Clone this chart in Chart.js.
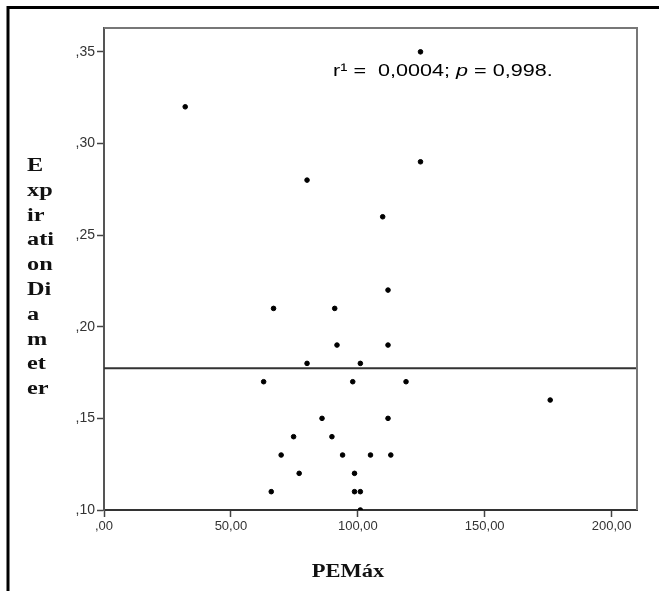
<!DOCTYPE html>
<html>
<head>
<meta charset="utf-8">
<script src="https://cdn.jsdelivr.net/npm/chart.js@4.4.1/dist/chart.umd.min.js"></script>
<style>
  html, body { margin: 0; padding: 0; background: #fff; }
  #wrap { width: 659px; height: 591px; }
</style>
</head>
<body>
<div id="wrap"><canvas id="scatter" width="659" height="591"></canvas></div>
<script>
// PEMáx vs expiration diameter
var pemax = [32, 80, 124.7, 124.7, 109.8, 111.9, 66.8, 90.9, 80, 101,
             91.8, 111.9, 62.9, 98, 119, 175.8, 85.9, 111.9, 74.7, 89.8,
             69.8, 94, 105, 113, 76.9, 98.7, 65.9, 98.7, 101, 101];
var diameter = [0.32, 0.28, 0.35, 0.29, 0.26, 0.22, 0.21, 0.21, 0.18, 0.18,
                0.19, 0.19, 0.17, 0.17, 0.17, 0.16, 0.15, 0.15, 0.14, 0.14,
                0.13, 0.13, 0.13, 0.13, 0.12, 0.12, 0.11, 0.11, 0.11, 0.10];
var fitX = [0, 210];
var fitY = [0.1773, 0.1773];
var xTicks = [0, 50, 100, 150, 200];
var yTicks = [0.10, 0.15, 0.20, 0.25, 0.30, 0.35];
var yTitleLines = ['E', 'xp', 'ir', 'ati', 'on', 'Di', 'a', 'm', 'et', 'er'];
var xTitle = 'PEMáx';

function comma(v) {
    var s = v.toFixed(2).replace('.', ',');
    if (s.indexOf('0,') === 0) s = s.substring(1);
    return s;
}

var points = pemax.map(function (x, i) { return {x: x, y: diameter[i]}; });
var fitLine = fitX.map(function (x, i) { return {x: x, y: fitY[i]}; });

var extras = {
    id: 'extras',
    beforeDraw: function (chart) {
        var ctx = chart.ctx;
        ctx.save();
        ctx.fillStyle = '#fff';
        ctx.fillRect(0, 0, chart.width, chart.height);
        // outer frame (left + top)
        ctx.strokeStyle = '#000';
        ctx.lineWidth = 3;
        ctx.beginPath();
        ctx.moveTo(8, 591);
        ctx.lineTo(8, 7.5);
        ctx.lineTo(659, 7.5);
        ctx.stroke();
        ctx.restore();
    },
    afterDraw: function (chart) {
        var ctx = chart.ctx, a = chart.chartArea;
        ctx.save();
        // plot frame top/right
        ctx.strokeStyle = '#777';
        ctx.lineWidth = 2;
        ctx.beginPath();
        ctx.moveTo(a.left, a.top);
        ctx.lineTo(a.right, a.top);
        ctx.lineTo(a.right, a.bottom);
        ctx.stroke();

        // y title, broken into short lines
        ctx.fillStyle = '#111';
        ctx.font = 'bold 18px "Liberation Serif"';
        ctx.textBaseline = 'alphabetic';
        yTitleLines.forEach(function (t, i) {
            ctx.save();
            ctx.translate(27, 171 + i * 24.8);
            ctx.scale(1.35, 1);
            ctx.fillText(t, 0, 0);
            ctx.restore();
        });

        // x title
        ctx.save();
        ctx.font = 'bold 18px "Liberation Serif"';
        ctx.translate(348, 577);
        ctx.scale(1.25, 1);
        ctx.textAlign = 'center';
        ctx.fillText(xTitle, 0, 0);
        ctx.restore();

        // annotation
        ctx.save();
        ctx.fillStyle = '#000';
        ctx.translate(333, 76);
        ctx.scale(1.27, 1);
        var x = 0;
        ctx.font = '17px "Liberation Sans"';
        var part1 = 'r\u00b9 =  0,0004; ';
        ctx.fillText(part1, x, 0);
        x += ctx.measureText(part1).width;
        ctx.font = 'italic 17px "Liberation Sans"';
        ctx.fillText('p', x, 0);
        x += ctx.measureText('p').width;
        ctx.font = '17px "Liberation Sans"';
        ctx.fillText(' = 0,998.', x, 0);
        ctx.restore();
        ctx.restore();
    }
};

new Chart(document.getElementById('scatter'), {
    type: 'scatter',
    data: {
        datasets: [{
            data: points,
            backgroundColor: '#000',
            borderColor: '#000',
            pointRadius: 2.3,
            pointHoverRadius: 2.3
        }, {
            type: 'line',
            data: fitLine,
            borderColor: '#333',
            borderWidth: 2,
            pointRadius: 0,
            fill: false
        }]
    },
    options: {
        responsive: false,
        animation: false,
        events: [],
        layout: { padding: { left: 0, top: 28, right: 22, bottom: 0 } },
        plugins: { legend: { display: false }, tooltip: { enabled: false } },
        scales: {
            x: {
                type: 'linear',
                min: 0,
                max: 210,
                afterBuildTicks: function (s) { s.ticks = xTicks.map(function (v) { return {value: v}; }); },
                afterFit: function (s) { s.height = 81; },
                grid: { drawOnChartArea: false, drawTicks: true, tickLength: 7, tickColor: '#444', tickWidth: 1.5 },
                border: { display: true, color: '#333', width: 2 },
                ticks: {
                    padding: 2,
                    color: '#333',
                    font: { family: '"Liberation Sans"', size: 13 },
                    maxRotation: 0,
                    callback: function (v) { return comma(v); }
                }
            },
            y: {
                min: 0.10,
                max: 0.363,
                afterBuildTicks: function (s) { s.ticks = yTicks.map(function (v) { return {value: v}; }); },
                afterFit: function (s) { s.width = 104; },
                grid: { drawOnChartArea: false, drawTicks: true, tickLength: 7, tickColor: '#444', tickWidth: 1.5 },
                border: { display: true, color: '#555', width: 2 },
                ticks: {
                    padding: 2,
                    color: '#333',
                    font: { family: '"Liberation Sans"', size: 14 },
                    callback: function (v) { return comma(v); }
                }
            }
        }
    },
    plugins: [extras]
});
</script>
</body>
</html>
